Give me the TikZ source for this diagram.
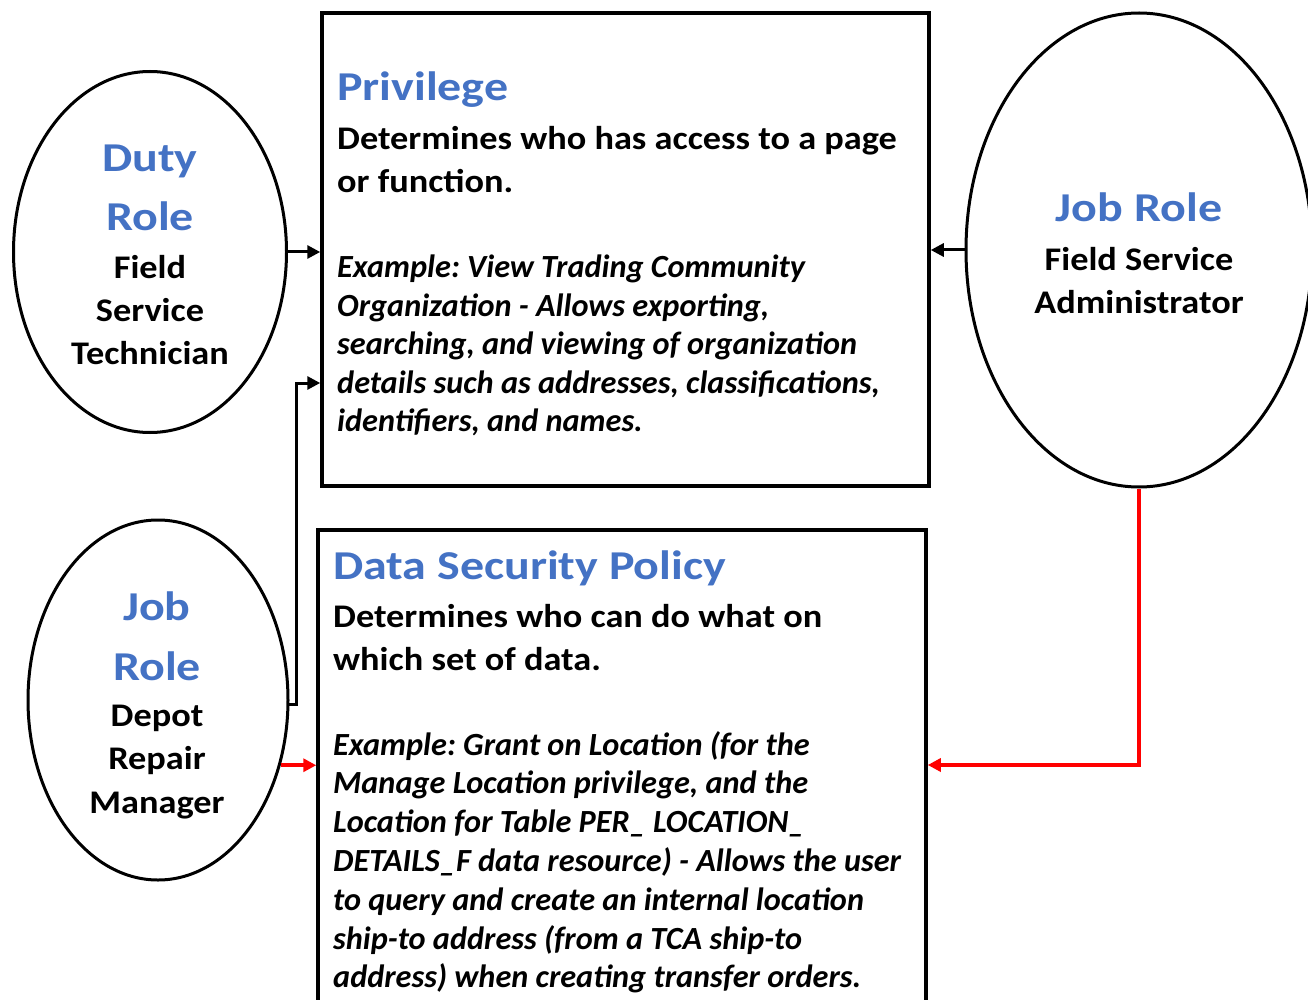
\documentclass[tikz,border=0pt]{standalone}
\usepackage{fontspec}
\setmainfont{Carlito}
\newfontfamily\ttlfont[FakeStretch=1.17]{Carlito}
\newfontfamily\bodyfont[FakeStretch=1.1]{Carlito}
\frenchspacing
\usetikzlibrary{shapes.geometric,arrows.meta}
\definecolor{tblue}{HTML}{4472C4}
\definecolor{tred}{HTML}{FF0000}
\begin{document}
\begin{tikzpicture}[x=1pt,y=-1pt,
  box/.style={draw,line width=3.5pt,rectangle,inner sep=0pt},
  role/.style={draw,line width=3pt,ellipse,inner sep=0pt},
  ttl/.style={font=\ttlfont\fontsize{41}{48}\selectfont\bfseries,text=tblue,inner sep=0pt},
  bodyl/.style={font=\bodyfont\fontsize{33}{40}\selectfont\bfseries,inner sep=0pt,anchor=base west},
  bodyc/.style={font=\bodyfont\fontsize{33}{40}\selectfont\bfseries,inner sep=0pt,anchor=base},
  ital/.style={font=\fontsize{32.3}{38}\selectfont\bfseries\itshape,inner sep=0pt,anchor=base west},
  arr/.style={line width=3pt,-{Triangle[length=13pt,width=13pt]}},
  redarr/.style={line width=3.5pt,draw=tred,-{Triangle[length=13pt,width=13pt,fill=tred]}}
]
\useasboundingbox (0,0) rectangle (1308,1000);
% boxes
\node[box,minimum width=607pt,minimum height=473pt] (box1) at (625.5,249.5) {};
\node[box,minimum width=608pt,minimum height=473pt] (box2) at (622,766.5) {};
% ellipses
\node[role,minimum width=273pt,minimum height=361pt] (duty) at (150,252) {};
\node[role,minimum width=260pt,minimum height=360pt] (depot) at (158,700) {};
\node[role,minimum width=346pt,minimum height=474pt] (fsa) at (1139,250) {};
% ellipse texts
\node[ttl,anchor=base] (d1) at (150,172) {Duty};
\node[ttl,anchor=base] (d2) at (150,231) {Role};
\node[bodyc] (d3) at (150,278) {Field};
\node[bodyc] (d4) at (150,321) {Service};
\node[bodyc] (d5) at (150,364) {Technician};
\node[ttl,anchor=base] (j1) at (157,620) {Job};
\node[ttl,anchor=base] (j2) at (157,680) {Role};
\node[bodyc] (j3) at (157,726) {Depot};
\node[bodyc] (j4) at (157,769) {Repair};
\node[bodyc] (j5) at (157,813) {Manager};
\node[ttl,anchor=base] (f1) at (1139,222) {Job Role};
\node[bodyc] (f2) at (1139,270) {Field Service};
\node[bodyc] (f3) at (1139,313) {Administrator};
% box1 text
\node[ttl,anchor=base west] (p0) at (337,101) {Privilege};
\node[bodyl] (p1) at (337,150) {Determines who has access to a page};
\node[bodyl] (p2) at (337,193) {or function.};
\node[ital] (p3) at (337,277) {Example: View Trading Community};
\node[ital] (p4) at (337,316) {Organization - Allows exporting,};
\node[ital] (p5) at (337,354) {searching, and viewing of organization};
\node[ital] (p6) at (337,393) {details such as addresses, classifications,};
\node[ital] (p7) at (337,431) {identifiers, and names.};
% box2 text
\node[ttl,anchor=base west] (s0) at (333,579) {Data Security Policy};
\node[bodyl] (s1) at (333,627) {Determines who can do what on};
\node[bodyl] (s2) at (333,670) {which set of data.};
\node[ital] (s3) at (333,755) {Example: Grant on Location (for the};
\node[ital] (s4) at (333,793.8) {Manage Location privilege, and the};
\node[ital] (s5) at (333,832.6) {Location for Table PER\_ LOCATION\_};
\node[ital] (s6) at (333,871.4) {DETAILS\_F data resource) - Allows the user};
\node[ital] (s7) at (333,910.2) {to query and create an internal location};
\node[ital] (s8) at (333,949) {ship-to address (from a TCA ship-to};
\node[ital] (s9) at (333,987.8) {address) when creating transfer orders.};
% connectors
\coordinate (k1) at (296,383);
\coordinate (r1) at (0,765);
\draw[arr] (duty.east) -- (duty.east -| box1.west);
\draw[arr] (fsa.west) -- (fsa.west -| box1.east);
\draw[arr] (depot.-2) -| (k1) -- (k1 -| box1.west);
\draw[redarr] (fsa.south) |- (box2.east |- r1);
\draw[redarr] (depot.-28) -- (depot.-28 -| box2.west);
\end{tikzpicture}
\end{document}
